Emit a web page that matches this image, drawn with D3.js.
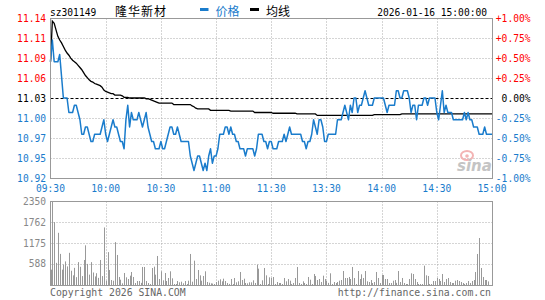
<!DOCTYPE html>
<html><head><meta charset="utf-8">
<script src="https://cdn.jsdelivr.net/npm/d3@7"></script>
<style>body{margin:0;background:#fff}svg{display:block}</style>
</head><body><svg id="c" width="545" height="300"></svg>
<script>
const stockCode = "sz301149";
const stockName = "隆华新材";
const legendPrice = "价格";
const legendAvg = "均线";
const stamp = "2026-01-16 15:00:00";
const copyright = "Copyright 2026 SINA.COM";
const siteUrl = "http://finance.sina.com.cn";
const preClose = 11.03;
const timeLabels = ["09:30","10:00","10:30","11:00","11:30","13:30","14:00","14:30","15:00"];
const timeTickIdx = [0,30,60,90,120,150,180,210,240];
const pctSteps = [1,0.75,0.5,0.25,0,-0.25,-0.5,-0.75,-1];
const priceLabels = ["11.14","11.11","11.09","11.06","11.03","11.00","10.97","10.95","10.92"];
const pctLabels = ["+1.00%","+0.75%","+0.50%","+0.25%","0.00%","-0.25%","-0.50%","-0.75%","-1.00%"];
const volTicks = [2350,1762,1175,588];
const volMax = 2350;

const price = [
11.08,11.11,11.08,11.08,11.08,11.09,11.06,11.03,11.03,11.03,
11.01,11.01,11.01,11.02,11.02,11.01,11.00,10.98,10.98,10.99,
10.99,10.98,10.97,10.97,10.98,10.98,10.98,10.98,10.99,11.00,
10.98,10.97,10.98,10.99,11.00,10.99,10.99,10.98,10.97,10.97,
10.96,11.00,11.02,10.99,11.01,11.00,11.00,11.00,11.01,11.00,
10.99,11.00,11.01,10.99,10.98,10.97,10.97,10.96,10.96,10.96,
10.97,10.96,10.96,10.97,10.98,10.99,10.99,10.98,10.98,10.99,
10.98,10.97,10.97,10.97,10.97,10.97,10.95,10.94,10.93,10.94,
10.95,10.95,10.94,10.93,10.94,10.93,10.95,10.96,10.94,10.95,
10.95,10.96,10.98,10.98,10.98,10.99,10.99,10.98,10.99,10.98,
10.98,10.97,10.97,10.96,10.96,10.96,10.95,10.96,10.96,10.96,
10.96,10.95,10.96,10.98,10.98,10.98,10.97,10.97,10.96,10.97,
10.97,10.96,10.96,10.96,10.97,10.97,10.97,10.98,10.97,10.98,
10.99,10.98,10.98,10.98,10.98,10.98,10.98,10.97,10.97,10.96,
10.97,10.97,10.98,11.00,10.99,10.98,11.00,11.00,10.99,10.97,
10.97,10.98,10.98,10.98,10.98,10.98,11.00,11.00,11.00,11.01,
11.02,11.01,11.00,11.02,11.01,11.03,11.03,11.01,11.02,11.02,
11.03,11.04,11.03,11.02,11.02,11.02,11.03,11.03,11.03,11.03,
11.03,11.03,11.02,11.01,11.02,11.02,11.02,11.02,11.04,11.04,
11.03,11.03,11.04,11.04,11.04,11.03,11.01,11.02,11.02,11.00,
11.02,11.02,11.02,11.03,11.03,11.02,11.03,11.03,11.03,11.03,
11.01,11.00,11.02,11.04,11.01,11.02,11.01,11.01,11.01,11.00,
11.00,11.00,11.00,11.00,11.00,11.01,11.00,11.01,11.00,11.00,
10.99,10.99,10.99,10.98,10.98,10.98,10.99,10.98,10.98,10.98,
10.98
];

const avgPrice = [
11.080,11.136,11.133,11.124,11.115,11.110,11.106,11.101,11.096,11.092,
11.089,11.085,11.082,11.080,11.078,11.075,11.072,11.069,11.065,11.061,
11.058,11.055,11.053,11.052,11.050,11.049,11.048,11.047,11.045,11.041,
11.039,11.038,11.037,11.036,11.036,11.034,11.034,11.034,11.034,11.033,
11.031,11.031,11.031,11.030,11.030,11.030,11.030,11.030,11.030,11.030,
11.030,11.030,11.029,11.029,11.028,11.027,11.026,11.025,11.024,11.023,
11.023,11.023,11.023,11.023,11.023,11.023,11.023,11.021,11.021,11.021,
11.021,11.021,11.021,11.021,11.021,11.021,11.021,11.019,11.018,11.016,
11.015,11.015,11.015,11.015,11.015,11.015,11.015,11.013,11.013,11.013,
11.013,11.013,11.013,11.013,11.013,11.013,11.013,11.013,11.012,11.012,
11.012,11.012,11.012,11.012,11.012,11.012,11.012,11.012,11.012,11.012,
11.012,11.010,11.010,11.010,11.010,11.010,11.010,11.010,11.010,11.010,
11.010,11.009,11.009,11.009,11.009,11.009,11.009,11.009,11.009,11.009,
11.009,11.009,11.009,11.009,11.008,11.008,11.008,11.008,11.008,11.008,
11.008,11.008,11.008,11.008,11.008,11.006,11.006,11.006,11.006,11.006,
11.006,11.006,11.006,11.006,11.006,11.006,11.006,11.006,11.006,11.006,
11.006,11.006,11.006,11.006,11.006,11.006,11.006,11.006,11.006,11.006,
11.006,11.006,11.006,11.006,11.006,11.006,11.007,11.007,11.007,11.007,
11.007,11.007,11.007,11.007,11.007,11.007,11.007,11.007,11.007,11.007,
11.007,11.008,11.008,11.008,11.008,11.008,11.008,11.008,11.008,11.008,
11.008,11.008,11.008,11.008,11.008,11.008,11.008,11.008,11.008,11.008,
11.008,11.008,11.008,11.008,11.008,11.008,11.008,11.008,11.008,11.008,
11.008,11.008,11.008,11.008,11.008,11.008,11.008,11.008,11.008,11.008,
11.008,11.008,11.008,11.008,11.008,11.008,11.008,11.008,11.008,11.008,
11.008
];

const volume = [
430,2350,1760,620,1460,870,430,570,660,520,
900,400,270,480,220,640,510,250,700,1110,
590,290,640,350,240,330,200,700,250,1610,
120,920,420,140,120,1200,840,224,149,47,
336,215,168,261,364,224,56,112,112,60,
504,504,112,56,28,476,513,289,812,168,
383,131,336,112,196,383,187,28,28,112,
75,93,47,112,28,121,868,93,681,168,
420,270,121,252,383,84,65,47,40,28,
84,121,159,103,177,112,56,30,168,28,
196,75,103,364,140,177,56,47,75,75,
131,56,569,457,28,131,476,270,28,215,
200,224,28,84,56,56,28,196,103,168,
121,28,56,196,504,56,28,103,56,28,
224,149,28,308,252,140,168,84,261,168,
112,60,327,28,84,56,84,121,140,392,
196,196,224,168,504,196,28,392,168,299,
196,392,103,84,140,56,84,364,196,56,
280,280,168,168,56,56,121,140,60,392,
84,196,56,28,28,168,327,308,168,84,
28,28,28,541,271,252,28,28,112,112,
196,168,112,308,84,168,196,84,56,56,
121,140,112,84,56,28,56,112,56,112,
140,364,868,1315,476,224,140,140,100,0,
0
];

const BLUE = "#1a7ccc", RED = "#ff0000", GRID = "#aaaaaa", BORDER = "#999999";
const MONO = "'DejaVu Sans Mono', monospace";
const CJK = "'Noto Sans CJK SC', sans-serif";

const svg = d3.select("#c");
svg.append("rect").attr("width",545).attr("height",300).attr("fill","#fff");

const x = d3.scaleLinear().domain([0,240]).range([50.5,492]);
const y = d3.scaleLinear().domain([preClose*0.99, preClose*1.01]).range([178,18]);
const yv = d3.scaleLinear().domain([0, volMax]).range([285,201]);
const crisp = v => Math.round(v) + 0.5;

// ---- header ----
const hdr = svg.append("g");
hdr.append("text").attr("x",50).attr("y",15.5).attr("font-family",MONO).attr("font-size",9.6).attr("fill","#000").text(stockCode);
hdr.append("text").attr("x",115).attr("y",16).attr("font-family",CJK).attr("font-size",12).attr("letter-spacing",1).attr("fill","#000").text(stockName);
hdr.append("rect").attr("x",200).attr("y",8).attr("width",8.5).attr("height",3).attr("fill",BLUE);
hdr.append("text").attr("x",215.5).attr("y",16).attr("font-family",CJK).attr("font-size",12).attr("fill",BLUE).text(legendPrice);
hdr.append("rect").attr("x",250).attr("y",8).attr("width",9).attr("height",3).attr("fill","#000");
hdr.append("text").attr("x",266).attr("y",16).attr("font-family",CJK).attr("font-size",12).attr("fill","#000").text(legendAvg);
hdr.append("text").attr("x",487).attr("y",15.5).attr("text-anchor","end").attr("font-family",MONO).attr("font-size",9.6).attr("fill","#000").text(stamp);

// ---- price panel grid ----
const pg = svg.append("g");
pctSteps.forEach((p,i) => {
  if (i === 0 || i === pctSteps.length-1) return;
  const yy = crisp(y(preClose*(1+p/100)));
  pg.append("line").attr("x1",50.5).attr("x2",492.5).attr("y1",yy).attr("y2",yy)
    .attr("stroke", p === 0 ? "#000" : GRID)
    .attr("stroke-dasharray", p === 0 ? "3,2" : "1,2");
});
timeTickIdx.slice(1,-1).forEach(t => {
  const xx = crisp(x(t));
  pg.append("line").attr("x1",xx).attr("x2",xx).attr("y1",18.5).attr("y2",178.5).attr("stroke",GRID).attr("stroke-dasharray","1,2");
  pg.append("line").attr("x1",xx).attr("x2",xx).attr("y1",201.5).attr("y2",285.5).attr("stroke",GRID).attr("stroke-dasharray","1,2");
});

// sina watermark
const wm = svg.append("g");
wm.append("ellipse").attr("cx",467).attr("cy",155.5).attr("rx",6).attr("ry",4.5).attr("fill","none").attr("stroke","#f3b4b4").attr("stroke-width",2);
wm.append("circle").attr("cx",467).attr("cy",156).attr("r",1.8).attr("fill","#f3b4b4");
wm.append("text").attr("x",457).attr("y",171).attr("font-family","'DejaVu Sans', sans-serif").attr("font-style","italic").attr("font-weight","bold").attr("font-size",15).attr("fill","#c4c4c4").text("sina");

// left / right labels
pctSteps.forEach((p,i) => {
  const yy = y(preClose*(1+p/100));
  const col = p > 0 ? RED : (p < 0 ? BLUE : "#000");
  svg.append("text").attr("x",46).attr("y",yy+3.5).attr("text-anchor","end")
    .attr("font-family",MONO).attr("font-size",9.6).attr("fill",col).text(priceLabels[i]);
  svg.append("text").attr("x",530.5).attr("y",yy+3.5).attr("text-anchor","end")
    .attr("font-family",MONO).attr("font-size",9.6).attr("fill",col).text(pctLabels[i]);
});

// time labels
timeTickIdx.forEach((t,i) => {
  svg.append("text").attr("x",x(t)).attr("y",191.5).attr("text-anchor","middle")
    .attr("font-family",MONO).attr("font-size",9.6).attr("fill",BLUE).text(timeLabels[i]);
});

// ---- lines ----
const line = d3.line().x((d,i)=>x(i)).y(d=>y(d));
svg.append("path").datum(avgPrice).attr("d",line).attr("fill","none").attr("stroke","#000").attr("stroke-width",1.3);
svg.append("path").datum(price).attr("d",line).attr("fill","none").attr("stroke",BLUE).attr("stroke-width",1.5).attr("stroke-linejoin","round");

// price border
svg.append("rect").attr("x",50.5).attr("y",18.5).attr("width",442).attr("height",160).attr("fill","none").attr("stroke",BORDER);

// ---- volume panel ----
volTicks.slice(1).forEach(v => {
  const yy = crisp(yv(v));
  svg.append("line").attr("x1",50.5).attr("x2",492.5).attr("y1",yy).attr("y2",yy).attr("stroke",GRID).attr("stroke-dasharray","1,2");
});
svg.append("g").selectAll("rect").data(volume).join("rect")
  .attr("x",(d,i)=>Math.round(x(i))).attr("width",1)
  .attr("y",d=>yv(d)).attr("height",d=>285.5-yv(d))
  .attr("fill","#999");
volTicks.forEach(v => {
  svg.append("text").attr("x",46).attr("y",yv(v)+3.5).attr("text-anchor","end")
    .attr("font-family",MONO).attr("font-size",9.6).attr("fill","#888").text(String(v));
});
svg.append("rect").attr("x",50.5).attr("y",201.5).attr("width",442).attr("height",84).attr("fill","none").attr("stroke",BORDER);

// footer
svg.append("text").attr("x",50).attr("y",295.5).attr("font-family",MONO).attr("font-size",9.8).attr("fill","#666").text(copyright);
svg.append("text").attr("x",491).attr("y",295.5).attr("text-anchor","end").attr("font-family",MONO).attr("font-size",9.8).attr("fill","#666").text(siteUrl);
</script>
</body></html>
